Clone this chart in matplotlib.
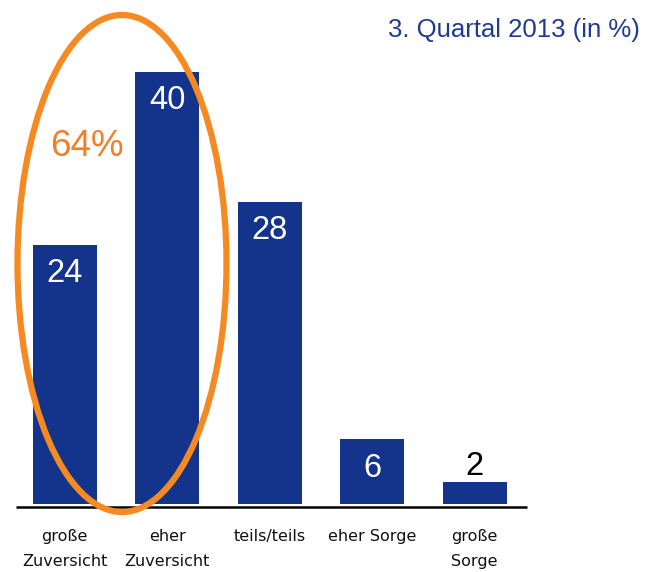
import matplotlib
matplotlib.use("Agg")
import matplotlib.pyplot as plt
from matplotlib.patches import Ellipse

categories = ["große\nZuversicht", "eher\nZuversicht", "teils/teils", "eher Sorge", "große\nSorge"]
values = [24, 40, 28, 6, 2]
title = "3. Quartal 2013 (in %)"
highlight_label = "64%"

bar_color = "#13348A"
orange = "#F58A22"

W, H = 650, 572
fig = plt.figure(figsize=(W / 100, H / 100), dpi=100)
ax = fig.add_axes([0, 0, 1, 1])

# pixel mapping
x0_px, dx_px = 64.5, 102.5     # first bar centre, spacing
base_px, unit_px = 504, 10.8   # baseline (from top), px per unit
ax.set_xlim(-x0_px / dx_px, (W - x0_px) / dx_px)
ax.set_ylim(-(H - base_px) / unit_px, base_px / unit_px)
ax.axis("off")

xs = list(range(len(values)))
ax.bar(xs, values, width=64 / dx_px, color=bar_color, zorder=2)

# axis line
ax.plot([(16 - x0_px) / dx_px, (527 - x0_px) / dx_px], [-2.5 / unit_px] * 2,
        color="black", lw=1.8, solid_capstyle="butt", zorder=3)

for x, v in zip(xs, values):
    if v >= 5:
        ax.text(x, v - 29 / unit_px, str(v), ha="center", va="center",
                color="white", fontsize=23.5, family="Liberation Sans", zorder=4)
    else:
        ax.text(x, v + 16 / unit_px, str(v), ha="center", va="center",
                color="black", fontsize=23.5, family="Liberation Sans", zorder=4)

for x, lab in zip(xs, categories):
    ax.text(x, -(529 - base_px) / unit_px, lab, ha="center", va="top",
            fontsize=11.5, family="DejaVu Sans", linespacing=1.85, color="#111111")

fig.text(640 / W, 1 - 30 / H, title, ha="right", va="center",
         fontsize=18.5, family="Liberation Sans", color="#1F3A8F")

# ellipse around first two bars
cx = (122 - x0_px) / dx_px
cy = (base_px - 263.5) / unit_px
ell = Ellipse((cx, cy), width=209 / dx_px, height=497 / unit_px,
              fill=False, edgecolor=orange, lw=4.5, zorder=5)
ax.add_patch(ell)
ax.text((87 - x0_px) / dx_px, (base_px - 146) / unit_px, highlight_label,
        ha="center", va="center", color="#F07F2A", fontsize=26.5,
        family="Liberation Sans", zorder=6)

fig.savefig("out.png", dpi=100)
